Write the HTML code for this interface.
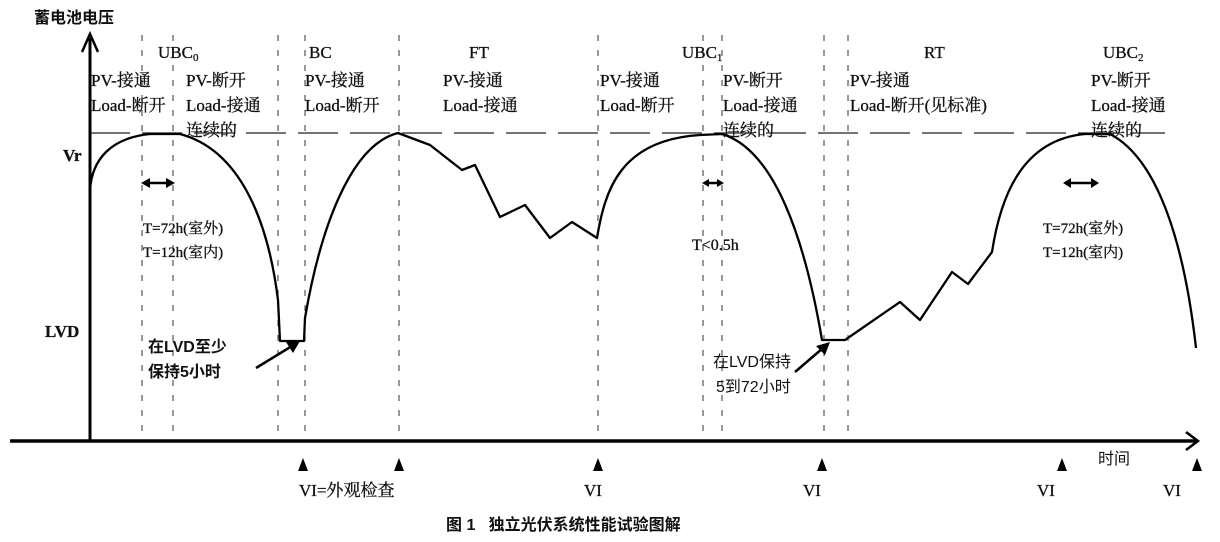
<!DOCTYPE html>
<html><head><meta charset="utf-8"><style>
html,body{margin:0;padding:0;background:#fff;}
svg{display:block;}
.s{font-family:"Liberation Serif","Noto Serif CJK SC","Noto Sans CJK SC",serif;font-size:17px;fill:#111;stroke:#111;stroke-width:0.3;}
.c{font-family:"Liberation Sans","Noto Sans CJK SC",sans-serif;font-size:16px;fill:#111;}
</style></head><body>
<svg width="1220" height="542" viewBox="0 0 1220 542" xmlns="http://www.w3.org/2000/svg">
<g stroke="#333" stroke-width="1" stroke-dasharray="6,9">
<line x1="142" y1="35" x2="142" y2="440"/><line x1="173" y1="35" x2="173" y2="440"/>
<line x1="278" y1="35" x2="278" y2="440"/><line x1="305" y1="35" x2="305" y2="440"/>
<line x1="399" y1="35" x2="399" y2="440"/><line x1="598" y1="35" x2="598" y2="440"/>
<line x1="703" y1="35" x2="703" y2="440"/><line x1="722" y1="35" x2="722" y2="440"/>
<line x1="824" y1="35" x2="824" y2="440"/><line x1="848" y1="35" x2="848" y2="440"/>
</g>
<line x1="90" y1="133" x2="1165" y2="133" stroke="#222" stroke-width="1.2" stroke-dasharray="40,12"/>
<line x1="90" y1="442" x2="90" y2="38" stroke="#000" stroke-width="3"/>
<polyline points="82,52 90,34 98,52" fill="none" stroke="#000" stroke-width="2.5"/>
<line x1="10" y1="441" x2="1196" y2="441" stroke="#000" stroke-width="3.5"/>
<polyline points="1186,432 1198,441 1186,450" fill="none" stroke="#000" stroke-width="2.5"/>
<path d="M90,190 C92,160 110,138 150,134 L180,134 C240,150 268,220 278,300 L280,341 L304,341 L305,318 C320,230 350,145 398,133 L430,145 L462,170 L475,165 L500,217 L525,205 L550,238 L572,222 L597,238 C605,190 620,140 700,135 L722,134 C775,150 805,240 822,340 L845,340 L900,302 L920,320 L952,272 L968,284 L992,252 C1000,200 1020,140 1085,134 L1110,134 C1160,160 1185,250 1196,348"
 fill="none" stroke="#000" stroke-width="2.3" stroke-linejoin="round"/>
<g stroke="#000" stroke-width="2.5">
<line x1="146" y1="183" x2="170" y2="183"/><line x1="706" y1="183" x2="720" y2="183"/><line x1="1068" y1="183" x2="1094" y2="183"/>
</g>
<g fill="#000">
<polygon points="141,183 150,178 150,188"/><polygon points="175,183 166,178 166,188"/>
<polygon points="702,183 709,179 709,187"/><polygon points="724,183 717,179 717,187"/>
<polygon points="1063,183 1071,178 1071,188"/><polygon points="1099,183 1091,178 1091,188"/>
</g>
<line x1="256" y1="368" x2="292" y2="346" stroke="#000" stroke-width="2.5"/>
<polygon points="300,341 286,342 293,353" fill="#000"/>
<line x1="795" y1="372" x2="823" y2="348" stroke="#000" stroke-width="2.5"/>
<polygon points="830,342 816,346 825,355" fill="#000"/>
<g fill="#000">
<polygon points="303,458 298,471 308,471"/><polygon points="399,458 394,471 404,471"/>
<polygon points="598,458 593,471 603,471"/><polygon points="822,458 817,471 827,471"/>
<polygon points="1062,458 1057,471 1067,471"/><polygon points="1197,458 1192,471 1202,471"/>
</g>
<text x="34" y="23" class="c" font-size="17" font-weight="bold">蓄电池电压</text>
<text x="63" y="161" class="s" font-weight="bold">Vr</text>
<text x="45" y="337" class="s" font-weight="bold">LVD</text>
<text x="158" y="58" class="s">UBC<tspan font-size="11" dy="3">0</tspan></text>
<text x="309" y="58" class="s">BC</text>
<text x="469" y="58" class="s">FT</text>
<text x="682" y="58" class="s">UBC<tspan font-size="11" dy="3">1</tspan></text>
<text x="924" y="58" class="s">RT</text>
<text x="1103" y="58" class="s">UBC<tspan font-size="11" dy="3">2</tspan></text>
<g class="s">
<text x="91" y="86">PV-接通</text><text x="91" y="111">Load-断开</text>
<text x="186" y="86">PV-断开</text><text x="186" y="111">Load-接通</text><text x="186" y="136">连续的</text>
<text x="305" y="86">PV-接通</text><text x="305" y="111">Load-断开</text>
<text x="443" y="86">PV-接通</text><text x="443" y="111">Load-接通</text>
<text x="600" y="86">PV-接通</text><text x="600" y="111">Load-断开</text>
<text x="723" y="86">PV-断开</text><text x="723" y="111">Load-接通</text><text x="723" y="136">连续的</text>
<text x="850" y="86">PV-接通</text><text x="850" y="111">Load-断开(见标准)</text>
<text x="1091" y="86">PV-断开</text><text x="1091" y="111">Load-接通</text><text x="1091" y="136">连续的</text>
<text x="143" y="233" font-size="15">T=72h(室外)</text><text x="143" y="257" font-size="15">T=12h(室内)</text>
<text x="692" y="250" font-size="16">T&lt;0.5h</text>
<text x="1043" y="233" font-size="15">T=72h(室外)</text><text x="1043" y="257" font-size="15">T=12h(室内)</text>
</g>
<g class="c" font-size="16">
<text x="148" y="352" font-weight="bold">在LVD至少</text>
<text x="148" y="377" font-weight="bold">保持5小时</text>
<text x="713" y="367">在LVD保持</text>
<text x="716" y="392">5到72小时</text>
<text x="1098" y="464">时间</text>
</g>
<g class="s">
<text x="299" y="496">VI=外观检查</text>
<text x="584" y="496">VI</text><text x="803" y="496">VI</text>
<text x="1037" y="496">VI</text><text x="1163" y="496">VI</text>
</g>
<text x="446" y="530" class="c" font-weight="bold" font-size="16">图 1&#160;&#160;&#160;独立光伏系统性能试验图解</text>
</svg>
</body></html>
